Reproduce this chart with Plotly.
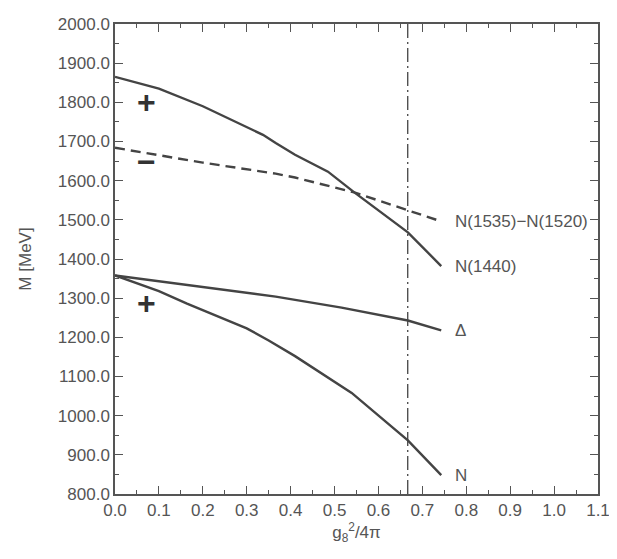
import plotly.graph_objects as go

# data
x_n1440 = [0.0, 0.1, 0.2, 0.337, 0.366, 0.41, 0.485, 0.545, 0.667, 0.743]
m_n1440 = [1865, 1835, 1790, 1717, 1696, 1666, 1623, 1570, 1468, 1382]

x_n1535 = [0.0, 0.1, 0.2, 0.366, 0.41, 0.545, 0.667, 0.743]
m_n1535 = [1684, 1665, 1646, 1618, 1608, 1570, 1524, 1496]

x_delta = [0.0, 0.1, 0.2, 0.366, 0.516, 0.667, 0.743]
m_delta = [1358, 1343, 1328, 1304, 1276, 1243, 1218]

x_n = [0.0, 0.1, 0.164, 0.3, 0.35, 0.41, 0.539, 0.667, 0.743]
m_n = [1358, 1318, 1286, 1223, 1192, 1152, 1058, 937, 848]

x_cut = 2 / 3

labels = ["N(1535)−N(1520)", "N(1440)", "Δ", "N"]
label_y = [1496, 1382, 1218, 848]
signs = ["+", "−", "+"]
sign_x = [0.072, 0.072, 0.072]
sign_y = [1800, 1648, 1288]

line_col = "#444444"
text_col = "#555555"
font = "Liberation Sans, Arial, sans-serif"

fig = go.Figure()
fig.add_trace(go.Scatter(x=x_n1440, y=m_n1440, mode="lines",
                         line=dict(color=line_col, width=2.4)))
fig.add_trace(go.Scatter(x=x_n1535, y=m_n1535, mode="lines",
                         line=dict(color=line_col, width=2.4, dash="10px,6px")))
fig.add_trace(go.Scatter(x=x_delta, y=m_delta, mode="lines",
                         line=dict(color=line_col, width=2.4)))
fig.add_trace(go.Scatter(x=x_n, y=m_n, mode="lines",
                         line=dict(color=line_col, width=2.4)))
fig.add_trace(go.Scatter(x=[x_cut, x_cut], y=[800, 2000], mode="lines",
                         line=dict(color=line_col, width=1.3, dash="14px,4px,2px,4px")))

for lab, ly in zip(labels, label_y):
    fig.add_annotation(x=0.77, y=ly, text=lab, showarrow=False, xanchor="left",
                       yanchor="middle", font=dict(size=17, color=text_col, family=font))

for s, sx, sy in zip(signs, sign_x, sign_y):
    fig.add_annotation(x=sx, y=sy, text="<b>" + s + "</b>", showarrow=False,
                       font=dict(size=32, color="#333333", family=font))

axis_common = dict(showline=True, linecolor="#555555", linewidth=1.5, mirror="ticks",
                   ticks="inside", ticklen=8, tickcolor="#555555", tickwidth=1.3,
                   showgrid=False, zeroline=False, tickformat=".1f",
                   ticklabeloverflow="allow",
                   tickfont=dict(size=17, color=text_col, family=font))

fig.update_xaxes(range=[0, 1.1], dtick=0.1, tick0=0,
                 minor=dict(ticks="inside", ticklen=4, dtick=0.05, tickcolor="#555555"),
                 title=dict(text="g<sub>8</sub><sup>2</sup>/4π", standoff=4,
                            font=dict(size=17, color=text_col, family=font)),
                 **axis_common)
fig.update_yaxes(range=[800, 2000], dtick=100, tick0=800,
                 minor=dict(ticks="inside", ticklen=4, dtick=50, tickcolor="#555555"),
                 title=dict(text="M [MeV]", standoff=22,
                            font=dict(size=17, color=text_col, family=font)),
                 **axis_common)

# the page body adds an 8px offset; margins compensate so the frame sits at
# x 115..607, y 15..494 in the window
fig.update_layout(width=609, height=551, showlegend=False,
                  margin=dict(l=107, r=10, t=7, b=65),
                  plot_bgcolor="white", paper_bgcolor="white")

fig.write_html("out.html")
